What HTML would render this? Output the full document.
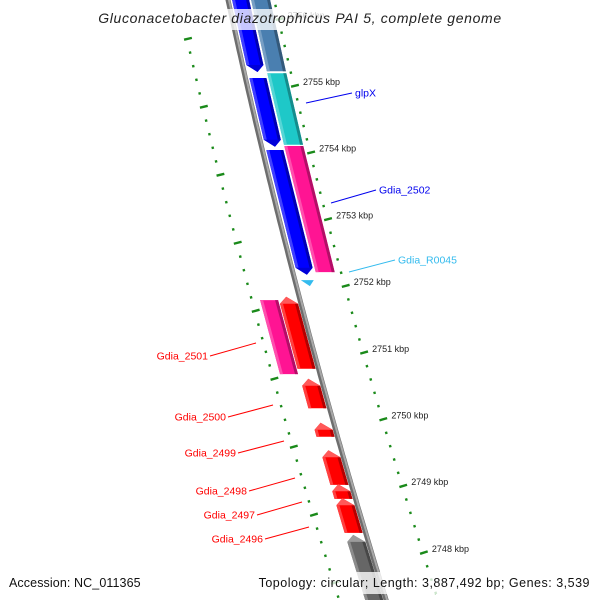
<!DOCTYPE html>
<html><head><meta charset="utf-8"><style>
html,body{margin:0;padding:0;background:#fff}
svg{display:block;font-family:"Liberation Sans",sans-serif}
</style></head><body>
<svg id="map" width="600" height="600" viewBox="0 0 600 600" xmlns="http://www.w3.org/2000/svg">
<g id="ticks"></g>
<g id="bb"></g>
<g id="genes"></g>
<g id="labels"></g>
<rect x="94" y="9" width="412" height="21" fill="#fff" opacity="0.78"/>
<text x="300" y="23" text-anchor="middle" font-size="14" letter-spacing="0.65" font-style="italic" fill="#222">Gluconacetobacter diazotrophicus PAI 5, complete genome</text>
<rect x="4" y="572" width="140" height="22" fill="#fff" opacity="0.78"/>
<rect x="256" y="572" width="340" height="22" fill="#fff" opacity="0.78"/>
<text x="9" y="587" font-size="12.5" letter-spacing="0.1" fill="#111">Accession: NC_011365</text>
<text x="590" y="587" text-anchor="end" font-size="12.5" letter-spacing="0.5" fill="#111">Topology: circular; Length: 3,887,492 bp; Genes: 3,539</text>
</svg>
<script>
// ---- data ----
const majorKbp = [2756,2755,2754,2753,2752,2751,2750,2749,2748];
const geneNames = ["b1","b2","b3","steel","glpX","Gdia_2502","Gdia_R0045","Gdia_2501","Gdia_2500","Gdia_2499","Gdia_2498","Gdia_2497","Gdia_2496","pinkL","grayL"];
const geneStart = [2756.5,2755.12,2754.04,2756.5,2755.19,2754.10,2752.09,2751.84,2750.61,2749.95,2749.54,2749.03,2748.82,2751.79,2748.27];
const geneEnd   = [2755.21,2754.09,2752.17,2755.22,2754.12,2752.21,2752.0,2750.76,2750.17,2749.74,2749.02,2748.81,2748.30,2750.68,2747.07];
const geneCol   = [1,1,1,2,2,2,1,-1,-1,-1,-1,-1,-1,-2,-1];
const geneDir   = [1,1,1,0,0,0,2,-1,-1,-1,-1,-1,-1,0,-1];
const geneColor = ["#0000ff","#0000ff","#0000ff","#4a7fb0","#1ec8c8","#ff1493","#33bbee","#ff0000","#ff0000","#ff0000","#ff0000","#ff0000","#ff0000","#ff1493","#666666"];
const labelText = ["glpX","Gdia_2502","Gdia_R0045","Gdia_2501","Gdia_2500","Gdia_2499","Gdia_2498","Gdia_2497","Gdia_2496"];
const labelColor= ["#0000ee","#0000ee","#33bbee","#ff0000","#ff0000","#ff0000","#ff0000","#ff0000","#ff0000"];
const labelSide = [1,1,1,-1,-1,-1,-1,-1,-1];
const leaderA = [[306,103],[331,203],[349,272],[256,343],[273,405],[284,441],[295,478],[302,502],[309,527]];
const leaderB = [[352,93],[376,190],[395,260],[210,356],[228,417],[238,453],[249,491],[257,515],[265,539]];

// ---- scales ----
const NS="http://www.w3.org/2000/svg";
const yR = k => 86 + (2755-k)*66.7;
const yL = k => 39 + (2755-k)*68;
const bx = y => 228 + 0.2167*y + 7.8e-5*y*y;
const rx = y => 294 + 0.2367*(y-86) + 8.45e-5*(y-86)*(y-86);
const lx = y => 187 + 0.2282*(y-39) + 7.67e-5*(y-39)*(y-39);
const colOff = {1:[4,21],2:[23,42],"-1":[-21,-3],"-2":[-40,-22]};
function mk(tag,attrs,parent){const e=document.createElementNS(NS,tag);for(const a in attrs)e.setAttribute(a,attrs[a]);parent.appendChild(e);return e;}
function shade(hex,f){const n=parseInt(hex.slice(1),16);let r=n>>16,g=(n>>8)&255,b=n&255;
  const m=c=>Math.max(0,Math.min(255,Math.round(f>0?c+(255-c)*f:c*(1+f))));return `rgb(${m(r)},${m(g)},${m(b)})`;}

// ---- ticks ----
const tg=document.getElementById('ticks');
function tick(xf,y,major,name){
  const x=xf(y), s=(xf(y+1)-xf(y-1))/2, n=Math.hypot(1,s), nx=1/n, ny=-s/n;
  const a=major?-3:-1.2, b=major?5:1.2;
  const l=mk('line',{x1:x+nx*a,y1:y+ny*a,x2:x+nx*b,y2:y+ny*b,stroke:'#1a8a1a','stroke-width':2.4},tg);
  
  
}
for(let i=0;i<=48;i++){const kk=Math.round((2756.6-i*0.2)*5)/5;const y=yR(kk);if(y<-3||y>603)continue;
  const maj=Math.abs(kk-Math.round(kk))<1e-6; tick(rx,y,maj,maj?'major-tick':'minor-tick');}
for(let i=0;i<=45;i++){const kk=Math.round((2755-i*0.2)*5)/5;const y=yL(kk);if(y>603)continue;
  const maj=Math.abs(kk-Math.round(kk))<1e-6; tick(lx,y,maj,maj?'left-major-tick':'left-minor-tick');}
majorKbp.forEach(k=>{const y=yR(k);const t=mk('text',{x:rx(y)+9,y:y-1,'font-size':9,fill:'#222'},tg);t.textContent=k+' kbp';
  
  });

// ---- backbone ----
const bg=document.getElementById('bb');let d='';
for(let y=-5;y<=605;y+=5)d+=(y===-5?'M':'L')+bx(y).toFixed(1)+' '+y;
mk('path',{d:d,fill:'none',stroke:'#6e6e6e','stroke-width':5},bg);
let d2='';for(let y=-5;y<=605;y+=5)d2+=(y===-5?'M':'L')+(bx(y)+1).toFixed(1)+' '+y;
mk('path',{d:d2,fill:'none',stroke:'#a8a8a8','stroke-width':2},bg);

// ---- genes ----
const gg=document.getElementById('genes');
function poly(pts,fill,name){const p=mk('polygon',{points:pts.map(p=>p[0].toFixed(1)+','+p[1].toFixed(1)).join(' '),fill:fill},gg);
  
  return p;}
function P(y,off){return [bx(y)+off,y];}
geneNames.forEach((nm,i)=>{
  const y1=yR(geneStart[i]), y2=yR(geneEnd[i]);const [a,b]=colOff[geneCol[i]];const m=(a+b)/2;
  const len=y2-y1, h=Math.min(7,len*0.5);let pts;const c=geneColor[i];
  if(geneDir[i]===2){poly([P(y1,a+2),P(y1,b-2),P(y2,m+1)],c,'gene-'+nm);return;}
  if(geneDir[i]===1) pts=[P(y1,a),P(y1,b),P(y2-h,b),P(y2,m+1),P(y2-h,a)];
  else if(geneDir[i]===-1) pts=[P(y1+h,a),P(y1,m-1),P(y1+h,b),P(y2,b),P(y2,a)];
  else pts=[P(y1,a),P(y1,b),P(y2,b),P(y2,a)];
  poly(pts,c,'gene-'+nm);
  const ya=geneDir[i]===-1?y1+h:y1, yb=geneDir[i]===1?y2-h:y2;
  poly([P(ya,a),P(ya,a+3),P(yb,a+3),P(yb,a)],shade(c,0.25),'gene-highlight');
  poly([P(ya,b-3),P(ya,b),P(yb,b),P(yb,b-3)],shade(c,-0.3),'gene-shadow');
  if(geneDir[i]===-1) poly([P(y1+h,a),P(y1,m-1),P(y1+h,b)],shade(c,0.35),'gene-tip');
  if(geneDir[i]===1) poly([P(y2-h,a),P(y2,m+1),P(y2-h,b)],shade(c,-0.15),'gene-tip');
});

// ---- labels ----
const lg=document.getElementById('labels');
labelText.forEach((t,i)=>{
  const [x0,y0]=leaderA[i],[x1,y1]=leaderB[i];
  mk('line',{x1:x0,y1:y0,x2:x1,y2:y1,stroke:labelColor[i],'stroke-width':1},lg);
  const e=mk('text',{x:labelSide[i]===1?x1+3:x1-2,y:y1+3.5,'font-size':10.5,fill:labelColor[i],'text-anchor':labelSide[i]===1?'start':'end'},lg);
  e.textContent=t;
  
  
});
</script>
</body></html>
